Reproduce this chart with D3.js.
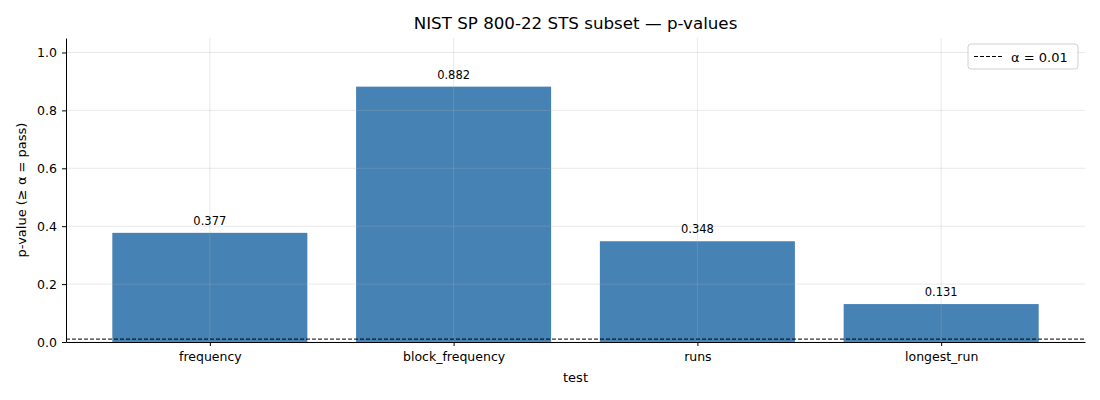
<!DOCTYPE html>
<meta charset="utf-8">
<style>
  body { margin: 0; background: #fff; }
  text { font-family: "DejaVu Sans", sans-serif; fill: #000; }
</style>
<body>
<script src="https://cdn.jsdelivr.net/npm/d3@7"></script>
<script>

// data
var tests = ["frequency", "block_frequency", "runs", "longest_run"];
var pvalues = [0.377, 0.882, 0.348, 0.131];
var yTicks = [0.0, 0.2, 0.4, 0.6, 0.8, 1.0];
var alpha = 0.01;

var W = 1100, H = 400;
var m = {left: 66, right: 15, top: 38, bottom: 58};

var svg = d3.select("body").append("svg")
    .attr("width", W)
    .attr("height", H);

// matplotlib-like limits: bars of width 0.8 plus 5% margins
var x = d3.scaleLinear()
    .domain([-0.59, tests.length - 1 + 0.59])
    .range([m.left, W - m.right]);

var y = d3.scaleLinear()
    .domain([0, 1.05])
    .range([H - m.bottom, m.top]);

var bw = x(0.4) - x(-0.4);

svg.selectAll("rect.bar")
    .data(pvalues)
  .enter().append("rect")
    .attr("class", "bar")
    .attr("x", function(d, i) { return x(i) - bw / 2; })
    .attr("y", function(d) { return y(d); })
    .attr("width", bw)
    .attr("height", function(d) { return y(0) - y(d); })
    .style("fill", "#4682b4");

// grid (drawn on top like the original)
var grid = svg.append("g").attr("class", "grid");
grid.selectAll("line.h")
    .data(yTicks)
  .enter().append("line")
    .attr("x1", m.left).attr("x2", W - m.right)
    .attr("y1", function(d) { return y(d); })
    .attr("y2", function(d) { return y(d); });
grid.selectAll("line.v")
    .data(tests)
  .enter().append("line")
    .attr("x1", function(d, i) { return x(i); })
    .attr("x2", function(d, i) { return x(i); })
    .attr("y1", m.top).attr("y2", H - m.bottom);
grid.selectAll("line")
    .style("stroke", "#b0b0b0")
    .style("stroke-opacity", 0.35)
    .style("stroke-width", 0.8);

// threshold line
svg.append("line")
    .attr("x1", m.left).attr("x2", W - m.right)
    .attr("y1", y(alpha)).attr("y2", y(alpha))
    .style("stroke", "#000")
    .style("stroke-width", 1)
    .style("stroke-dasharray", "4,2");

// value labels
svg.selectAll("text.val")
    .data(pvalues)
  .enter().append("text")
    .attr("class", "val")
    .attr("x", function(d, i) { return x(i); })
    .attr("y", function(d) { return y(d) - 8; })
    .attr("text-anchor", "middle")
    .style("font-size", "11.5px")
    .text(function(d) { return d.toFixed(3); });

// axes
var xAxis = svg.append("g")
    .attr("transform", "translate(0," + (H - m.bottom) + ")")
    .call(d3.axisBottom(x)
      .tickValues(d3.range(tests.length))
      .tickFormat(function(i) { return tests[i]; })
      .tickSize(4).tickPadding(6).tickSizeOuter(0));

var yAxis = svg.append("g")
    .attr("transform", "translate(" + m.left + ",0)")
    .call(d3.axisLeft(y)
      .tickValues(yTicks)
      .tickFormat(d3.format(".1f"))
      .tickSize(4).tickPadding(5).tickSizeOuter(0));

svg.selectAll(".tick text")
    .style("font-family", "DejaVu Sans, sans-serif")
    .style("font-size", "12.5px");
svg.selectAll(".domain, .tick line").style("stroke", "#000").style("stroke-width", 1);

// titles
svg.append("text")
    .attr("x", (m.left + W - m.right) / 2)
    .attr("y", 29)
    .attr("text-anchor", "middle")
    .style("font-size", "16.7px")
    .text("NIST SP 800-22 STS subset \u2014 p-values");

svg.append("text")
    .attr("x", (m.left + W - m.right) / 2)
    .attr("y", 382)
    .attr("text-anchor", "middle")
    .style("font-size", "13px")
    .text("test");

svg.append("text")
    .attr("transform", "translate(26," + ((m.top + H - m.bottom) / 2) + ") rotate(-90)")
    .attr("text-anchor", "middle")
    .style("font-size", "13px")
    .text("p-value (\u2265 \u03b1 = pass)");

// legend
var lg = svg.append("g").attr("transform", "translate(968,44)");
lg.append("rect")
    .attr("width", 110).attr("height", 25).attr("rx", 3)
    .style("fill", "#fff").style("fill-opacity", 0.8)
    .style("stroke", "#d0d0d0");
lg.append("line")
    .attr("x1", 6).attr("x2", 34).attr("y1", 12.5).attr("y2", 12.5)
    .style("stroke", "#000").style("stroke-dasharray", "4,2");
lg.append("text")
    .attr("x", 43).attr("y", 17.5)
    .style("font-size", "13px")
    .text("\u03b1 = 0.01");

</script>
